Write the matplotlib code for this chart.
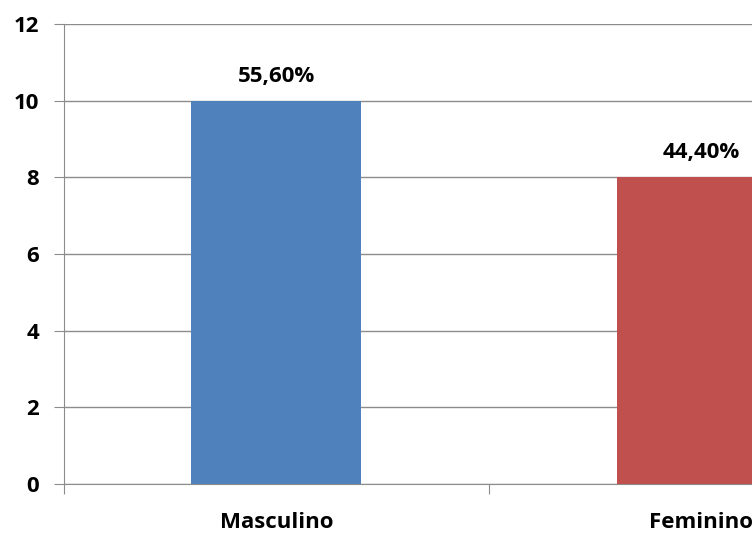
import matplotlib.pyplot as plt

categories = ['Masculino', 'Feminino']
values = [10, 8]
labels = ['55,60%', '44,40%']
colors = ['#4F81BD', '#C0504D']
y_ticks = [0, 2, 4, 6, 8, 10, 12]

plt.rcParams['font.family'] = ['Open Sans', 'DejaVu Sans']

fig = plt.figure(figsize=(7.52, 5.36), dpi=100)
# the plot area runs past the right edge of the picture, as in the original crop
ax = fig.add_axes([64 / 752, 52 / 536, 850 / 752, 460 / 536])

x = [0.5, 1.5]
ax.bar(x, values, width=0.4, color=colors, zorder=3)

for xi, v, lab in zip(x, values, labels):
    ax.annotate(lab, (xi, v), xytext=(0, 10), textcoords='offset points',
                ha='center', va='bottom', fontsize=16, fontweight='bold')

ax.set_xlim(0, 2)
ax.set_ylim(0, 12)
ax.set_yticks(y_ticks)
ax.set_xticks([0, 1, 2])
ax.set_xticklabels([])
ax.set_xticks(x, minor=True)
ax.set_xticklabels(categories, minor=True, fontsize=16, fontweight='bold')
ax.tick_params(axis='x', which='minor', length=0, pad=20)
ax.tick_params(axis='x', which='major', length=7, color='#8c8c8c')
ax.tick_params(axis='y', length=7, color='#8c8c8c', labelsize=16, pad=11)
for t in ax.get_yticklabels():
    t.set_fontweight('bold')

ax.grid(axis='y', color='#8c8c8c', linewidth=1, zorder=0)
for s in ['top', 'right']:
    ax.spines[s].set_visible(False)
for s in ['left', 'bottom']:
    ax.spines[s].set_color('#8c8c8c')

fig.savefig('out.png', dpi=100)
